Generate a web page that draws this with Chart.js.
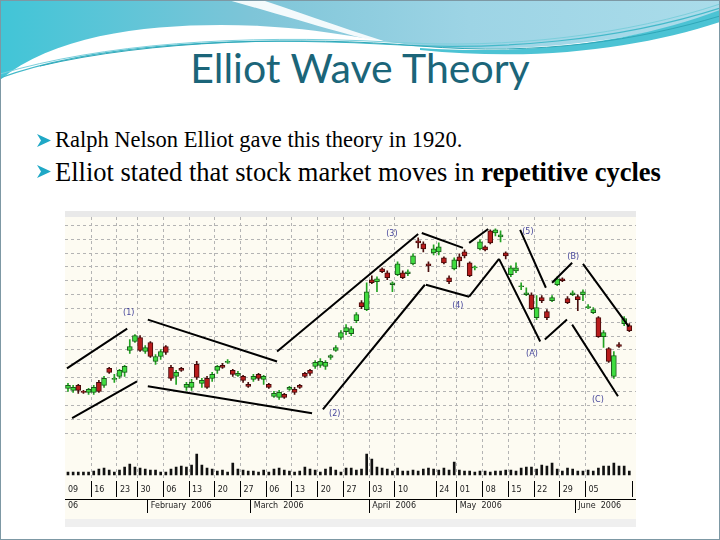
<!DOCTYPE html>
<html lang="en">
<head>
<meta charset="UTF-8">
<title>Elliot Wave Theory</title>
<script src="https://cdn.jsdelivr.net/npm/chart.js"></script>
<style>
  body {
    margin: 0;
    width: 720px;
    height: 540px;
    overflow: hidden;
    background: #fff;
    position: relative;
  }
  .frame {
    position: absolute;
    left: 0; top: 0;
    width: 718px; height: 538px;
    border: 1px solid #7d98a4;
  }
  .header { position: absolute; left: 0; top: 0; }
  h1 {
    position: absolute;
    left: 0; top: 47px;
    width: 720px;
    margin: 0;
    text-align: center;
    font-family: Lato, sans-serif;
    font-weight: normal;
    font-size: 41px;
    line-height: 41px;
    color: #1b6579;
  }
  .bullet {
    position: absolute;
    left: 55px;
    font-family: "Liberation Serif", serif;
    line-height: 32px;
    color: #000;
    white-space: nowrap;
  }
  .bullet svg { position: absolute; left: -18px; }
  .strip-top { position: absolute; left: 65px; top: 211px; width: 571px; height: 6px; background: #e9e9e9; }
  .strip-bottom { position: absolute; left: 65px; top: 519px; width: 571px; height: 8px; background: #efefef; }
  .plot {
    position: absolute;
    left: 65px; top: 217px;
    width: 571px; height: 302px;
    background: #fdfbf2;
  }
</style>
</head>
<body>
<svg class="header" width="720" height="100">
  <defs>
    <linearGradient id="sky" x1="0" y1="0" x2="1" y2="0">
      <stop offset="0" stop-color="#41c5d7"/>
      <stop offset="0.35" stop-color="#7ec5d8"/>
      <stop offset="0.65" stop-color="#9dd4e5"/>
      <stop offset="1" stop-color="#aadcea"/>
    </linearGradient>
  </defs>
  <path d="M0,0 H720 V14 C660,34 560,52 450,48 C390,46 340,30 260,26 C170,22 60,30 0,80 Z" fill="url(#sky)"/>
  <path d="M228,0 L262,0 C310,16 360,34 400,46 C360,40 300,20 228,0 Z" fill="#ffffff" opacity="0.9"/>
  <path d="M420,48 C540,56 640,40 720,10 L720,22 C640,48 540,62 420,50 Z" fill="#4cc3d4"/>
  <path d="M0,78 C90,45 230,36 380,44 C500,52 620,40 720,8" fill="none" stroke="#43b9c9" stroke-width="1.2"/>
  <path d="M0,74 C100,44 240,34 390,42 C510,50 630,34 720,4" fill="none" stroke="#7ccfdc" stroke-width="1"/>
  <path d="M40,66 C150,40 300,36 420,46 C540,56 640,40 720,16" fill="none" stroke="#2fa7b8" stroke-width="1"/>
</svg>
<h1>Elliot Wave Theory</h1>
<div class="bullet" style="top:124px; font-size:22.5px">
  <svg width="14" height="13" style="top:10px"><polygon points="0,0 14,6.5 0,13 4,6.5" fill="#1fa8c6"/></svg>Ralph Nelson Elliot gave this theory in 1920.
</div>
<div class="bullet" style="top:156px; font-size:26.5px">
  <svg width="14" height="13" style="top:9px"><polygon points="0,0 14,6.5 0,13 4,6.5" fill="#1fa8c6"/></svg>Elliot stated that stock market moves in <b>repetitive cycles</b>
</div>
<div class="strip-top"></div>
<div class="plot"><canvas id="waveChart"></canvas></div>
<div class="strip-bottom"></div>
<div class="frame"></div>

<script>
// daily candles, Jan - Jun 2006 (price, arbitrary units)
const opens = [
  7.1, 6.9, 7.4, 6.8, 6.7, 6.7, 7.7, 7.4, 9.1, 8.0,
  8.3, 8.7, 10.9, 11.8, 12.2, 10.8, 11.7, 9.8, 10.3, 11.3,
  9.2, 8.3, 9.1, 7.2, 7.2, 9.5, 7.6, 8.1, 8.1, 8.9,
  9.4, 9.7, 8.9, 8.4, 8.3, 7.5, 8.0, 8.5, 8.0, 7.5,
  6.3, 6.2, 6.5, 7.0, 7.0, 7.4, 8.6, 8.9, 9.3, 9.4,
  9.3, 10.2, 10.9, 12.2, 12.8, 12.6, 13.9, 15.7, 15.0, 18.0,
  17.8, 19.1, 18.7, 17.5, 18.5, 18.7, 18.6, 19.6, 21.9, 21.6,
  19.6, 20.7, 20.8, 20.2, 18.2, 19.1, 20.3, 20.8, 19.7, 19.2,
  21.1, 21.3, 22.9, 22.7, 22.3, 20.7, 18.5, 18.9, 17.3, 16.5,
  16.5, 14.2, 16.2, 14.8, 15.9, 17.5, 18.1, 16.1, 16.5, 16.3,
  16.5, 15.2, 14.7, 14.2, 12.3, 11.1, 8.3, 11.5, 13.6, 13.4
];
const highs = [
  7.6, 7.4, 7.5, 6.9, 7.1, 7.4, 7.9, 8.3, 9.2, 8.5,
  9.0, 9.4, 12.0, 12.5, 12.4, 11.4, 11.8, 10.5, 11.0, 11.4,
  9.4, 8.9, 9.2, 7.7, 8.0, 9.8, 8.1, 8.3, 8.7, 9.4,
  9.6, 10.0, 9.0, 8.8, 8.4, 7.7, 8.5, 8.6, 8.4, 7.6,
  6.8, 6.9, 6.6, 7.3, 7.2, 7.5, 8.7, 9.0, 9.9, 10.1,
  9.9, 10.5, 11.4, 12.9, 13.5, 13.3, 14.7, 15.9, 17.7, 18.4,
  18.3, 19.2, 18.9, 17.8, 19.8, 18.9, 19.0, 20.6, 22.2, 21.8,
  19.8, 21.5, 21.7, 20.3, 18.4, 20.2, 20.6, 21.0, 19.8, 19.4,
  22.0, 21.4, 23.0, 23.1, 22.9, 20.8, 19.4, 19.7, 17.7, 17.2,
  16.7, 16.4, 16.4, 15.0, 16.4, 18.3, 18.2, 16.3, 16.9, 16.5,
  17.0, 15.5, 15.2, 14.3, 12.9, 11.2, 10.8, 11.7, 14.3, 13.6
];
const lows = [
  6.8, 6.7, 6.6, 6.6, 6.5, 6.5, 6.7, 7.2, 8.6, 7.7,
  8.1, 8.3, 10.6, 11.7, 10.8, 10.6, 10.2, 9.5, 10.0, 10.5,
  7.9, 7.5, 8.8, 6.9, 6.9, 8.0, 7.2, 7.1, 7.8, 8.6,
  9.1, 9.6, 8.3, 8.3, 7.7, 7.2, 7.8, 7.9, 7.5, 7.1,
  6.2, 6.0, 6.1, 6.9, 6.5, 7.1, 8.2, 8.4, 9.1, 9.2,
  9.0, 10.0, 10.8, 12.0, 12.5, 12.4, 13.7, 15.1, 14.9, 17.6,
  16.8, 18.7, 18.0, 16.8, 18.4, 18.1, 18.4, 19.5, 21.2, 20.8,
  18.8, 20.5, 20.5, 19.6, 17.6, 19.0, 19.3, 20.2, 18.3, 19.0,
  21.0, 20.9, 21.6, 22.4, 21.8, 20.1, 18.3, 18.7, 17.0, 16.4,
  15.0, 14.0, 15.7, 14.0, 15.8, 17.4, 17.8, 15.6, 16.4, 14.9,
  15.9, 15.1, 14.6, 12.2, 11.2, 9.7, 8.1, 11.2, 13.4, 12.8
];
const closes = [
  7.4, 7.2, 6.9, 6.7, 7.0, 7.2, 6.8, 8.1, 8.7, 8.1,
  8.9, 9.3, 11.3, 12.4, 10.9, 11.2, 10.3, 10.3, 10.8, 10.7,
  8.1, 8.7, 8.9, 7.5, 7.7, 8.2, 7.9, 7.2, 8.5, 9.3,
  9.2, 9.8, 8.5, 8.6, 7.9, 7.3, 8.3, 8.1, 8.3, 7.2,
  6.6, 6.7, 6.2, 7.2, 6.7, 7.2, 8.3, 8.6, 9.7, 9.8,
  9.7, 10.4, 11.2, 12.7, 13.2, 13.1, 14.5, 15.3, 16.8, 17.7,
  18.1, 18.8, 18.2, 17.7, 19.6, 18.2, 18.8, 20.4, 21.7, 21.1,
  19.4, 21.1, 21.3, 19.7, 17.8, 20.0, 19.9, 20.4, 18.4, 19.3,
  21.8, 21.0, 21.7, 23.0, 22.5, 20.4, 19.2, 19.2, 17.4, 16.7,
  15.1, 15.2, 15.9, 14.2, 16.2, 18.1, 17.9, 15.7, 16.7, 16.0,
  16.8, 15.3, 15.0, 12.3, 12.7, 9.8, 10.4, 11.3, 14.1, 12.9
];
const volumes = [
  3, 3, 3, 3, 3, 4, 6, 7, 5, 3,
  5, 8, 11, 8, 7, 6, 5, 5, 3, 3,
  6, 8, 9, 8, 10, 21, 10, 7, 6, 4,
  5, 3, 12, 6, 5, 4, 4, 3, 5, 3,
  6, 7, 5, 4, 3, 4, 8, 6, 5, 3,
  6, 8, 5, 3, 7, 7, 5, 6, 21, 16,
  8, 7, 6, 4, 7, 4, 4, 5, 4, 6,
  7, 6, 5, 7, 5, 13, 5, 4, 4, 3,
  4, 4, 3, 4, 4, 5, 5, 4, 7, 8,
  8, 6, 10, 9, 12, 6, 4, 7, 6, 4,
  4, 5, 4, 7, 9, 9, 12, 9, 9, 4
];

// week separators (day index) and their labels
const dayTickPos = [-0.58, 4.5, 9.5, 13.5, 18.5, 23.5, 28.5, 33.5, 38.5, 43.5, 48.5, 53.5, 58.5, 63.5, 71.5, 75.5, 80.5, 85.5, 90.5, 95.5, 100.5, 109.7];
const dayTickLabels = ['09', '16', '23', '30', '06', '13', '20', '27', '06', '13', '20', '27', '03', '10', '24', '01', '08', '15', '22', '29', '05', ''];
const monthTickPos = [-0.58, 15.5, 35.5, 58.5, 75.5, 98.5];
const monthTickLabels = ['06', 'February  2006', 'March  2006', 'April  2006', 'May  2006', 'June  2006'];

// Elliott wave channel lines: [x1, price1, x2, price2]
const waveSegments = [
  [-0.2, 9.1, 11.5, 13.1],
  [0.8, 4.1, 13.4, 7.8],
  [15.5, 14.0, 40.6, 9.8],
  [15.5, 7.3, 47.4, 4.6],
  [40.6, 10.8, 68.0, 22.6],
  [49.5, 5.0, 69.3, 17.5],
  [68.7, 22.7, 76.7, 21.2],
  [69.5, 17.5, 77.9, 16.3],
  [77.9, 21.7, 81.6, 23.1],
  [77.9, 16.3, 83.7, 20.1],
  [87.8, 23.0, 92.8, 17.2],
  [83.7, 20.1, 91.7, 11.8],
  [92.6, 12.0, 96.9, 14.0],
  [94.0, 17.7, 97.9, 19.7],
  [100.0, 19.6, 108.9, 13.3],
  [97.9, 13.5, 106.8, 6.3]
];
const waveLabels = ['(1)', '(2)', '(3)', '(4)', '(5)', '(A)', '(B)', '(C)'];
const waveLabelX = [11.8, 51.8, 62.9, 75.7, 89.3, 90.1, 98.1, 102.9];
const waveLabelY = [14.7, 4.5, 22.6, 15.4, 22.8, 10.6, 20.3, 5.9];

const upBodies = [], downBodies = [], wicks = [], wickColors = [];
opens.forEach((o, i) => {
    const c = closes[i];
    if (c >= o) upBodies.push({ x: i, y: [o, c] });
    else downBodies.push({ x: i, y: [c, o] });
    wicks.push({ x: i, y: [lows[i], highs[i]] });
    wickColors.push(c >= o ? '#22a322' : '#4a1010');
});
const volumeData = volumes.map((v, i) => ({ x: i, y: v }));
const lineData = [];
waveSegments.forEach(s => {
    lineData.push({ x: s[0], y: s[1] }, { x: s[2], y: s[3] }, { x: s[2], y: null });
});

const waveLabelPlugin = {
    id: 'waveLabels',
    afterDatasetsDraw(chart) {
        const ctx = chart.ctx;
        const xs = chart.scales.x, ys = chart.scales.y;
        ctx.save();
        ctx.font = '8px "DejaVu Sans"';
        ctx.fillStyle = '#44449a';
        ctx.textAlign = 'center';
        ctx.textBaseline = 'middle';
        waveLabels.forEach((t, i) => {
            ctx.fillText(t, xs.getPixelForValue(waveLabelX[i]), ys.getPixelForValue(waveLabelY[i]));
        });
        ctx.restore();
    }
};

Chart.defaults.font.family = '"DejaVu Sans", sans-serif';
Chart.defaults.font.size = 8;
Chart.defaults.color = '#222';

const clear = 'rgba(0,0,0,0)';
const lastDay = dayTickPos.length - 1;

new Chart(document.getElementById('waveChart'), {
    type: 'bar',
    data: {
        datasets: [
            {
                type: 'line', data: lineData, yAxisID: 'y', xAxisID: 'x',
                borderColor: '#000', borderWidth: 2, pointRadius: 0, spanGaps: false, order: 1
            },
            {
                data: upBodies, yAxisID: 'y', xAxisID: 'x', grouped: false, barThickness: 5,
                backgroundColor: '#3fdc3f', borderColor: '#1d5a1d', borderWidth: 1, borderSkipped: false, order: 2
            },
            {
                data: downBodies, yAxisID: 'y', xAxisID: 'x', grouped: false, barThickness: 5,
                backgroundColor: '#b81c1c', borderColor: '#450a0a', borderWidth: 1, borderSkipped: false, order: 2
            },
            {
                data: wicks, yAxisID: 'y', xAxisID: 'x', grouped: false, barThickness: 1,
                backgroundColor: wickColors, order: 3
            },
            {
                data: volumeData, yAxisID: 'yv', xAxisID: 'x', grouped: false, barThickness: 2,
                backgroundColor: '#111', order: 3
            }
        ]
    },
    options: {
        responsive: true,
        maintainAspectRatio: false,
        animation: false,
        layout: { padding: 0 },
        plugins: { legend: { display: false }, tooltip: { enabled: false } },
        scales: {
            // volume listed first: left-stacked boxes are placed in reverse, so it lands at the bottom
            yv: {
                type: 'linear', position: 'left', stack: 'panel', stackWeight: 35,
                min: -6, max: 29,
                afterFit: s => { s.width = 0; },
                ticks: { display: false },
                grid: { display: false },
                border: { display: false }
            },
            y: {
                type: 'linear', position: 'left', stack: 'panel', stackWeight: 230,
                min: 1.3, max: 24.3,
                afterBuildTicks: s => {
                    const t = [];
                    for (let k = -1; k <= 14; k++) t.push({ value: 22.07 - 1.39 * k });
                    s.ticks = t;
                },
                afterFit: s => { s.width = 0; },
                ticks: { display: false },
                grid: { color: '#b4b4b4', drawTicks: false },
                border: { display: false, dash: [3, 3] }
            },
            x: {
                type: 'linear', position: 'bottom', min: -0.58, max: 110.3,
                offset: false,
                afterBuildTicks: s => { s.ticks = dayTickPos.map(v => ({ value: v })); },
                afterFit: s => { s.height = 18; },
                ticks: {
                    autoSkip: false, maxRotation: 0, align: 'start', labelOffset: 3, padding: -12,
                    callback: (v, i) => dayTickLabels[i]
                },
                grid: {
                    offset: false,
                    color: c => (c.index === 0 || c.index === lastDay) ? clear : '#b4b4b4',
                    tickColor: c => c.index === 0 ? clear : '#000',
                    tickLength: 16, tickBorderDash: []
                },
                border: { display: false, dash: [3, 3] }
            },
            xm: {
                type: 'linear', position: 'bottom', min: -0.58, max: 110.3,
                offset: false,
                afterBuildTicks: s => { s.ticks = monthTickPos.map(v => ({ value: v })); },
                afterFit: s => { s.height = 20; },
                ticks: {
                    autoSkip: false, maxRotation: 0, align: 'start', labelOffset: 3, padding: -12,
                    callback: (v, i) => monthTickLabels[i]
                },
                grid: {
                    offset: false, drawOnChartArea: false,
                    tickColor: c => c.index === 0 ? clear : '#000',
                    tickLength: 14
                },
                border: { display: true, color: '#000', width: 1 }
            }
        }
    },
    plugins: [waveLabelPlugin]
});
</script>
</body>
</html>
